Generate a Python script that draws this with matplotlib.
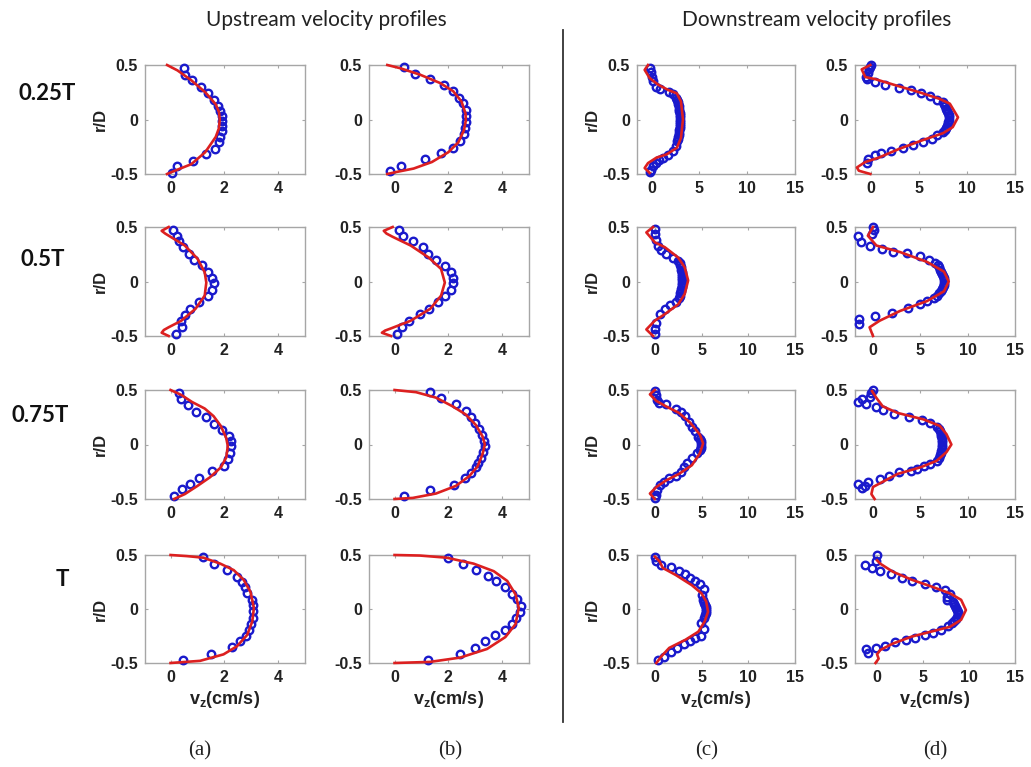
import matplotlib
matplotlib.use("Agg")
import matplotlib.pyplot as plt
from matplotlib.lines import Line2D

# ---------------- data (v in cm/s, r in r/D) ----------------
# Row 1 : 0.25T
a1_line_v = [-0.13, 0.26, 0.77, 1.29, 1.68, 1.80, 1.83, 1.80, 1.68, 1.29, 0.77, 0.26, -0.13]
a1_line_r = [0.5, 0.45, 0.36, 0.25, 0.14, 0.07, 0.0, -0.08, -0.16, -0.30, -0.41, -0.46, -0.5]
a1_pts_v = [0.49, 0.52, 0.80, 1.14, 1.39, 1.61, 1.78, 1.83, 1.90, 1.91, 1.90, 1.90, 1.85, 1.81, 1.65, 1.32, 0.84, 0.23, 0.05]
a1_pts_r = [0.475, 0.41, 0.36, 0.30, 0.24, 0.18, 0.125, 0.08, 0.03, -0.016, -0.06, -0.11, -0.16, -0.21, -0.27, -0.32, -0.38, -0.43, -0.49]

b1_line_v = [-0.27, 0.22, 0.96, 1.69, 2.18, 2.49, 2.64, 2.65, 2.58, 2.37, 2.00, 1.39, 0.71, 0.10, -0.27]
b1_line_r = [0.5, 0.47, 0.41, 0.335, 0.26, 0.165, 0.055, -0.01, -0.10, -0.21, -0.30, -0.39, -0.45, -0.48, -0.5]
b1_pts_v = [0.37, 0.77, 1.33, 1.84, 2.18, 2.40, 2.55, 2.65, 2.67, 2.67, 2.63, 2.58, 2.43, 2.18, 1.72, 1.14, 0.25, -0.17]
b1_pts_r = [0.485, 0.42, 0.37, 0.32, 0.26, 0.20, 0.15, 0.085, 0.03, -0.02, -0.075, -0.13, -0.195, -0.26, -0.31, -0.365, -0.43, -0.475]

c1_line_v = [-0.35, -0.7, -0.18, 0.7, 1.77, 2.66, 3.09, 3.3, 3.09, 2.66, 1.6, 0.53, -0.35, -0.7, -0.18]
c1_line_r = [0.5, 0.455, 0.38, 0.32, 0.27, 0.24, 0.165, 0.0, -0.17, -0.26, -0.32, -0.35, -0.40, -0.445, -0.49]
c1_pts_v = [-0.18, 0.0, 0.1, 0.18, 0.46, 0.89, 1.88, 2.3, 2.6,
            2.7, 2.75, 2.8, 2.85, 2.9, 2.9, 2.95, 2.95, 3.0, 3.0, 3.0, 3.0, 2.95, 2.95, 2.9, 2.9, 2.85, 2.8, 2.75, 2.7,
            2.6, 2.23, 1.77, 1.24, 0.82, 0.46, 0.18, 0.0, -0.1]
c1_pts_r = [0.475, 0.44, 0.39, 0.35, 0.30, 0.28, 0.255, 0.23, 0.20,
            0.18, 0.16, 0.14, 0.12, 0.10, 0.08, 0.06, 0.04, 0.02, 0.0, -0.02, -0.04, -0.06, -0.08, -0.10, -0.12, -0.14, -0.16, -0.18, -0.20,
            -0.24, -0.29, -0.33, -0.35, -0.37, -0.40, -0.43, -0.46, -0.485]

d1_line_v = [-0.1, -1.0, -0.63, 0.42, 2.5, 5.0, 7.1, 8.2, 9.05, 8.5, 7.5, 5.35, 2.9, 0.77, -0.63, -1.5, -1.3, -0.1]
d1_line_r = [0.5, 0.46, 0.39, 0.37, 0.315, 0.25, 0.19, 0.145, 0.02, -0.07, -0.125, -0.19, -0.27, -0.35, -0.39, -0.44, -0.47, -0.5]
d1_pts_v = [0.0, -0.1, -0.2, -0.35, -0.56, -0.46, 0.35, 1.4, 2.9, 4.1, 5.2, 6.1, 6.9,
            7.5, 7.6, 7.7, 7.8, 7.9, 8.0, 8.1, 8.1, 8.1, 8.0, 8.0, 7.9, 7.8, 7.7,
            7.5, 6.9, 6.3, 5.35, 4.4, 3.3, 2.1, 1.06, 0.35, -0.35, -0.46]
d1_pts_r = [0.5, 0.485, 0.46, 0.43, 0.39, 0.37, 0.345, 0.315, 0.29, 0.27, 0.24, 0.215, 0.18,
            0.16, 0.14, 0.12, 0.10, 0.08, 0.06, 0.04, 0.02, 0.0, -0.02, -0.04, -0.06, -0.08, -0.10,
            -0.115, -0.145, -0.18, -0.21, -0.23, -0.26, -0.285, -0.31, -0.33, -0.36, -0.40]

# Row 2 : 0.5T
a2_line_v = [-0.07, -0.33, -0.2, 0.0, 0.53, 1.0, 1.27, 1.33, 1.27, 0.93, 0.4, -0.07, -0.25, -0.33, -0.07]
a2_line_r = [0.5, 0.465, 0.44, 0.41, 0.33, 0.21, 0.085, -0.01, -0.13, -0.25, -0.36, -0.42, -0.445, -0.47, -0.5]
a2_pts_v = [0.1, 0.24, 0.31, 0.47, 0.67, 0.87, 1.17, 1.4, 1.56, 1.6, 1.56, 1.4, 1.07, 0.73, 0.53, 0.4, 0.44, 0.2]
a2_pts_r = [0.475, 0.42, 0.37, 0.32, 0.25, 0.2, 0.15, 0.085, 0.03, -0.015, -0.08, -0.135, -0.19, -0.25, -0.31, -0.36, -0.42, -0.48]

b2_line_v = [-0.07, -0.4, -0.3, -0.07, 0.6, 1.27, 1.73, 1.87, 1.73, 1.33, 0.6, -0.13, -0.35, -0.47, -0.13]
b2_line_r = [0.5, 0.465, 0.44, 0.41, 0.33, 0.22, 0.115, -0.01, -0.13, -0.25, -0.36, -0.43, -0.45, -0.47, -0.5]
b2_pts_v = [0.17, 0.3, 0.7, 1.07, 1.24, 1.53, 1.87, 2.09, 2.17, 2.17, 2.09, 1.87, 1.6, 1.27, 0.93, 0.53, 0.27, 0.09]
b2_pts_r = [0.475, 0.42, 0.37, 0.315, 0.25, 0.2, 0.145, 0.085, 0.03, -0.015, -0.08, -0.135, -0.19, -0.25, -0.3, -0.36, -0.42, -0.48]

c2_line_v = [-0.18, -0.9, 0.0, 1.07, 2.5, 3.2, 3.57, 3.2, 2.5, 1.07, 0.0, -0.9, -0.18]
c2_line_r = [0.5, 0.45, 0.36, 0.315, 0.22, 0.13, 0.01, -0.115, -0.21, -0.3, -0.36, -0.44, -0.5]
c2_pts_v = [0.0, 0.07, 0.18, 0.36, 0.71, 1.25, 1.96, 2.5,
            2.7, 2.75, 2.8, 2.85, 2.9, 2.9, 2.95, 2.95, 2.95, 2.95, 2.9, 2.9, 2.85, 2.8, 2.75, 2.7, 2.6,
            2.3, 1.6, 1.07, 0.54, 0.18, 0.07, 0.0]
c2_pts_r = [0.485, 0.44, 0.38, 0.33, 0.285, 0.255, 0.22, 0.19,
            0.17, 0.15, 0.13, 0.11, 0.09, 0.07, 0.05, 0.03, 0.01, -0.01, -0.03, -0.05, -0.07, -0.09, -0.11, -0.13, -0.15,
            -0.19, -0.22, -0.25, -0.30, -0.38, -0.44, -0.485]

d2_line_v = [0.0, -0.54, 0.36, 2.86, 5.7, 7.5, 8.0, 7.5, 5.7, 2.86, 0.7, -0.36, 0.0]
d2_line_r = [0.5, 0.42, 0.33, 0.27, 0.18, 0.09, 0.0, -0.09, -0.18, -0.27, -0.36, -0.42, -0.5]
d2_pts_v = [0.0, 0.07, -0.07, -1.6, -1.25, -0.36, 0.9, 2.14, 3.57, 5.0, 5.9, 6.6,
            6.9, 7.0, 7.1, 7.2, 7.3, 7.4, 7.45, 7.5, 7.5, 7.45, 7.4, 7.3, 7.2, 7.0, 6.8,
            6.4, 5.7, 5.0, 3.75, 1.96, 0.18, -1.43, -1.43]
d2_pts_r = [0.5, 0.47, 0.44, 0.42, 0.36, 0.33, 0.30, 0.27, 0.26, 0.23, 0.20, 0.17,
            0.15, 0.13, 0.11, 0.09, 0.07, 0.05, 0.03, 0.01, -0.01, -0.03, -0.05, -0.07, -0.09, -0.11, -0.13,
            -0.15, -0.18, -0.21, -0.24, -0.29, -0.32, -0.34, -0.39]

# Row 3 : 0.75T
a3_line_v = [0.0, 0.4, 0.8, 1.27, 1.6, 1.87, 2.07, 2.13, 2.07, 1.87, 1.47, 1.0, 0.53, 0.13]
a3_line_r = [0.5, 0.455, 0.39, 0.33, 0.26, 0.17, 0.06, -0.015, -0.12, -0.21, -0.3, -0.38, -0.455, -0.5]
a3_pts_v = [0.31, 0.4, 0.64, 0.93, 1.31, 1.63, 1.93, 2.17, 2.24, 2.24, 2.2, 2.13, 1.97, 1.56, 1.07, 0.71, 0.44, 0.13]
a3_pts_r = [0.47, 0.415, 0.36, 0.3, 0.25, 0.19, 0.135, 0.08, 0.03, -0.015, -0.075, -0.135, -0.2, -0.24, -0.31, -0.36, -0.41, -0.47]

b3_line_v = [0.0, 0.8, 1.54, 2.16, 2.65, 3.02, 3.27, 3.36, 3.27, 3.09, 2.78, 2.28, 1.54, 0.68, 0.0]
b3_line_r = [0.5, 0.48, 0.43, 0.35, 0.275, 0.18, 0.075, 0.0, -0.09, -0.2, -0.29, -0.38, -0.45, -0.49, -0.5]
b3_pts_v = [1.3, 1.73, 2.28, 2.65, 2.84, 3.0, 3.15, 3.25, 3.33, 3.37, 3.3, 3.21, 3.12, 3.02, 2.84, 2.63, 2.22, 1.32, 0.37]
b3_pts_r = [0.48, 0.43, 0.37, 0.31, 0.255, 0.2, 0.145, 0.09, 0.03, -0.015, -0.07, -0.125, -0.17, -0.21, -0.26, -0.31, -0.37, -0.415, -0.475]

c3_line_v = [0.0, -0.52, 0.17, 1.2, 2.59, 3.79, 4.83, 5.17, 4.83, 3.97, 2.59, 1.2, 0.17, -0.52, 0.0]
c3_line_r = [0.5, 0.46, 0.4, 0.35, 0.29, 0.2, 0.09, 0.01, -0.08, -0.19, -0.27, -0.33, -0.39, -0.45, -0.5]
c3_pts_v = [0.0, 0.1, 0.24, 0.45, 1.2, 2.24, 2.76, 3.28, 3.69, 3.97, 4.31, 4.66,
            4.8, 4.9, 4.95, 4.95, 4.9, 4.8,
            4.48, 3.97, 3.45, 3.1, 2.76, 2.24, 1.55, 1.03, 0.52, 0.24, 0.1, 0.0]
c3_pts_r = [0.49, 0.45, 0.41, 0.38, 0.37, 0.33, 0.30, 0.26, 0.21, 0.165, 0.12, 0.07,
            0.05, 0.03, 0.01, -0.01, -0.03, -0.05,
            -0.08, -0.125, -0.17, -0.21, -0.25, -0.29, -0.31, -0.345, -0.375, -0.415, -0.46, -0.49]

d3_line_v = [-0.1, 0.34, 1.03, 2.59, 5.34, 7.07, 7.76, 8.28, 7.76, 6.72, 5.0, 2.59, 0.86, 0.0, -0.17, 0.17]
d3_line_r = [0.49, 0.43, 0.35, 0.29, 0.23, 0.17, 0.095, 0.0, -0.07, -0.15, -0.21, -0.27, -0.35, -0.39, -0.455, -0.5]
d3_pts_v = [0.0, -0.17, -0.34, -1.2, -1.55, -0.69, 0.34, 1.03, 2.24, 3.79, 5.17, 6.03, 6.72,
            7.0, 7.1, 7.15, 7.2, 7.25, 7.3, 7.3, 7.3, 7.3, 7.25, 7.2, 7.15, 7.1, 7.0,
            6.72, 6.03, 5.34, 4.66, 3.97, 2.76, 1.72, 0.69, -0.52, -1.55, -0.86, -1.2]
d3_pts_r = [0.5, 0.47, 0.44, 0.42, 0.39, 0.37, 0.34, 0.32, 0.28, 0.255, 0.225, 0.2, 0.16,
            0.14, 0.12, 0.10, 0.08, 0.06, 0.04, 0.02, 0.0, -0.02, -0.04, -0.06, -0.08, -0.10, -0.12,
            -0.15, -0.18, -0.20, -0.225, -0.24, -0.255, -0.285, -0.315, -0.34, -0.36, -0.38, -0.395]

# Row 4 : T
a4_line_v = [0.0, 0.6, 1.22, 1.85, 2.35, 2.72, 2.97, 3.1, 3.04, 2.85, 2.47, 1.97, 1.1, 0.0]
a4_line_r = [0.5, 0.49, 0.475, 0.42, 0.36, 0.27, 0.16, 0.01, -0.115, -0.24, -0.345, -0.42, -0.48, -0.5]
a4_pts_v = [1.22, 1.62, 2.1, 2.47, 2.66, 2.76, 2.85, 3.04, 3.07, 3.07, 3.07, 3.0, 2.91, 2.79, 2.57, 2.29, 1.51, 0.45]
a4_pts_r = [0.48, 0.42, 0.36, 0.3, 0.25, 0.2, 0.145, 0.085, 0.035, -0.02, -0.08, -0.135, -0.19, -0.25, -0.3, -0.355, -0.415, -0.47]

b4_line_v = [0.0, 0.94, 1.94, 2.94, 3.69, 4.19, 4.5, 4.62, 4.5, 4.12, 3.44, 2.44, 1.31, 0.0]
b4_line_r = [0.5, 0.495, 0.475, 0.42, 0.35, 0.26, 0.135, 0.01, -0.14, -0.26, -0.37, -0.45, -0.49, -0.5]
b4_pts_v = [2.0, 2.54, 3.04, 3.46, 3.79, 4.12, 4.37, 4.56, 4.71, 4.66, 4.5, 4.37, 4.09, 3.75, 3.37, 3.0, 2.44, 1.25]
b4_pts_r = [0.475, 0.42, 0.36, 0.31, 0.26, 0.2, 0.14, 0.09, 0.03, -0.025, -0.08, -0.14, -0.19, -0.245, -0.3, -0.36, -0.415, -0.47]

c4_line_v = [0.0, 0.52, 0.86, 2.24, 3.97, 5.0, 5.5, 5.7, 5.34, 4.66, 3.28, 1.55, 0.69, 0.17]
c4_line_r = [0.485, 0.44, 0.38, 0.315, 0.22, 0.145, 0.07, -0.025, -0.115, -0.21, -0.285, -0.36, -0.44, -0.5]
c4_pts_v = [0.0, 0.1, 0.69, 1.72, 2.59, 3.2, 3.8, 4.3, 4.83, 5.28, 5.07, 5.17,
            5.3, 5.4, 5.45, 5.5, 5.5, 5.45, 5.4, 5.3,
            4.93, 5.28, 4.93, 4.3, 3.8, 3.1, 2.4, 1.72, 1.03, 0.34]
c4_pts_r = [0.485, 0.44, 0.41, 0.385, 0.35, 0.32, 0.29, 0.26, 0.23, 0.185, 0.13, 0.085,
            0.06, 0.04, 0.02, 0.0, -0.02, -0.04, -0.06, -0.08,
            -0.125, -0.185, -0.25, -0.27, -0.30, -0.325, -0.36, -0.40, -0.44, -0.47]

d4_line_v = [0.0, 0.34, 1.72, 3.79, 5.86, 7.93, 9.14, 9.66, 9.14, 7.93, 5.86, 3.79, 1.72, 0.34, 0.0, 0.17, -0.17]
d4_line_r = [0.45, 0.42, 0.345, 0.27, 0.21, 0.145, 0.085, -0.01, -0.1, -0.165, -0.21, -0.255, -0.32, -0.38, -0.42, -0.46, -0.5]
d4_pts_v = [0.0, -0.17, -1.31, -0.52, 0.34, 1.55, 2.76, 3.79, 5.17, 6.38, 7.41, 7.93, 7.59, 7.59, 8.28,
            8.4, 8.5, 8.6, 8.7, 8.8, 8.8, 8.7, 8.6, 8.4,
            8.1, 7.76, 6.9, 6.03, 5.17, 4.14, 3.1, 1.9, 0.86, -0.17, -1.2, -1.03]
d4_pts_r = [0.5, 0.445, 0.41, 0.38, 0.35, 0.32, 0.285, 0.26, 0.23, 0.2, 0.18, 0.14, 0.11, 0.08, 0.065,
            0.05, 0.03, 0.01, -0.01, -0.03, -0.05, -0.07, -0.09, -0.11,
            -0.125, -0.155, -0.19, -0.22, -0.24, -0.27, -0.29, -0.31, -0.34, -0.36, -0.37, -0.41]

row_labels = ["0.25T", "0.5T", "0.75T", "T"]
panel_labels = ["(a)", "(b)", "(c)", "(d)"]
up_xticks = [0, 2, 4]
down_xticks = [0, 5, 10, 15]
y_ticks = [-0.5, 0, 0.5]
y_ticklabels = ["-0.5", "0", "0.5"]

panels = [
    [(a1_line_v, a1_line_r, a1_pts_v, a1_pts_r), (b1_line_v, b1_line_r, b1_pts_v, b1_pts_r),
     (c1_line_v, c1_line_r, c1_pts_v, c1_pts_r), (d1_line_v, d1_line_r, d1_pts_v, d1_pts_r)],
    [(a2_line_v, a2_line_r, a2_pts_v, a2_pts_r), (b2_line_v, b2_line_r, b2_pts_v, b2_pts_r),
     (c2_line_v, c2_line_r, c2_pts_v, c2_pts_r), (d2_line_v, d2_line_r, d2_pts_v, d2_pts_r)],
    [(a3_line_v, a3_line_r, a3_pts_v, a3_pts_r), (b3_line_v, b3_line_r, b3_pts_v, b3_pts_r),
     (c3_line_v, c3_line_r, c3_pts_v, c3_pts_r), (d3_line_v, d3_line_r, d3_pts_v, d3_pts_r)],
    [(a4_line_v, a4_line_r, a4_pts_v, a4_pts_r), (b4_line_v, b4_line_r, b4_pts_v, b4_pts_r),
     (c4_line_v, c4_line_r, c4_pts_v, c4_pts_r), (d4_line_v, d4_line_r, d4_pts_v, d4_pts_r)],
]

# ---------------- layout (pixels) ----------------
W, H = 1031, 767
col_x = [(145, 305), (369, 529), (637, 795), (855, 1015)]
row_y = [(65, 174), (227, 336), (390, 499), (555, 663)]
xlims = [
    [(-0.95, 5.0), (-0.95, 5.0), (-1.5, 15.0), (-1.7, 15.0)],
    [(-0.95, 5.0), (-0.95, 5.0), (-1.9, 14.8), (-1.9, 14.8)],
    [(-0.95, 5.0), (-0.95, 5.0), (-1.9, 14.8), (-1.9, 14.8)],
    [(-0.95, 5.0), (-0.95, 5.0), (-1.9, 14.8), (-2.4, 14.2)],
]

plt.rcParams['font.family'] = ['Liberation Sans', 'DejaVu Sans']
plt.rcParams['mathtext.fontset'] = 'custom'
plt.rcParams['mathtext.rm'] = 'Liberation Sans:bold'
plt.rcParams['mathtext.it'] = 'Liberation Sans:bold'
plt.rcParams['mathtext.bf'] = 'Liberation Sans:bold'

RED = '#dc2020'
BLUE = '#1a1acc'
SPINE = '#a6a6a6'
TXT = '#222222'

fig = plt.figure(figsize=(W / 100, H / 100), dpi=100)

for i in range(4):
    for j in range(4):
        x0, x1 = col_x[j]
        y0, y1 = row_y[i]
        ax = fig.add_axes([x0 / W, 1 - y1 / H, (x1 - x0) / W, (y1 - y0) / H])
        lv, lr, pv, pr = panels[i][j]
        ax.plot(pv, pr, 'o', mfc='none', mec=BLUE, ms=5.4, mew=1.7, clip_on=False, zorder=3)
        ax.plot(lv, lr, '-', color=RED, lw=1.9, clip_on=False, zorder=4,
                solid_joinstyle='round')
        ax.set_xlim(*xlims[i][j])
        ax.set_ylim(-0.5, 0.5)
        ax.set_xticks(up_xticks if j < 2 else down_xticks)
        ax.set_yticks(y_ticks)
        ax.set_yticklabels(y_ticklabels)
        for s in ax.spines.values():
            s.set_color(SPINE)
            s.set_linewidth(1.0)
        ax.tick_params(direction='in', length=2.5, width=0.8, color=SPINE,
                       top=True, right=True, labelsize=11.5, labelcolor=TXT, pad=5)
        for lab in ax.get_xticklabels() + ax.get_yticklabels():
            lab.set_fontweight('bold')
        if j in (0, 2):
            ax.set_ylabel('r/D', fontsize=12, fontweight='bold', color=TXT, labelpad=2)
        if i == 3:
            ax.set_xlabel('v$_{z}$(cm/s)', fontsize=13, fontweight='bold', color=TXT, labelpad=3)

# titles
fig.text(326 / W, 1 - 20 / H, 'Upstream velocity profiles', ha='center', va='center',
         fontsize=15, family=['Lato', 'DejaVu Sans'], color=TXT)
fig.text(817 / W, 1 - 20 / H, 'Downstream velocity profiles', ha='center', va='center',
         fontsize=15, family=['Lato', 'DejaVu Sans'], color=TXT)

# row labels
row_label_xy = [(47, 93), (43, 259), (40, 416), (62, 580)]
for lab, (x, y) in zip(row_labels, row_label_xy):
    fig.text(x / W, 1 - y / H, lab, ha='center', va='center', fontsize=16,
             fontweight='bold', family=['Lato', 'DejaVu Sans'], color='#111111')

# panel labels
panel_label_x = [200, 450, 707, 935]
for lab, x in zip(panel_labels, panel_label_x):
    fig.text(x / W, 1 - 751 / H, lab, ha='center', va='center', fontsize=15,
             family=['Liberation Serif', 'DejaVu Serif'], color=TXT)

# divider
fig.add_artist(Line2D([563 / W, 563 / W], [1 - 30 / H, 1 - 722 / H], color='#333333', lw=1.3))

fig.savefig('out.png', dpi=100)
